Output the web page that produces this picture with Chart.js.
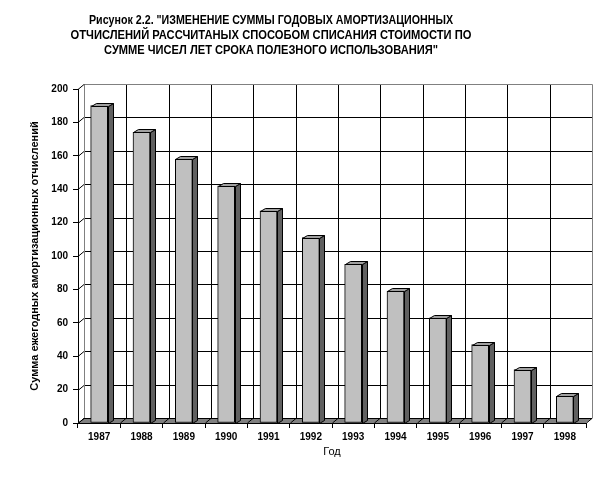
<!DOCTYPE html>
<html>
<head>
<meta charset="utf-8">
<script src="https://cdn.jsdelivr.net/npm/chart.js@4"></script>
<style>
  html, body { margin: 0; padding: 0; background: #ffffff; }
  #wrap { width: 615px; height: 481px; }
</style>
</head>
<body>
<div id="wrap"><canvas id="myChart" width="615" height="481"></canvas></div>
<script>
// data
const years = ['1987', '1988', '1989', '1990', '1991', '1992', '1993', '1994', '1995', '1996', '1997', '1998'];
const amounts = [190, 174, 158, 142, 127, 111, 95, 79, 63, 47, 32, 16];
const yTicks = [0, 20, 40, 60, 80, 100, 120, 140, 160, 180, 200];
const titleLines = [
  'Рисунок 2.2. "ИЗМЕНЕНИЕ СУММЫ ГОДОВЫХ АМОРТИЗАЦИОННЫХ',
  'ОТЧИСЛЕНИЙ РАССЧИТАНЫХ СПОСОБОМ СПИСАНИЯ СТОИМОСТИ ПО',
  'СУММЕ ЧИСЕЛ ЛЕТ СРОКА ПОЛЕЗНОГО ИСПОЛЬЗОВАНИЯ"'
];

const wallDx = 6, wallDy = 5;   // depth of the back wall
const barDx = 5, barDy = 3;     // depth of each column

// back wall, floor and gridlines behind the columns
const wallPlugin = {
  id: 'wall',
  beforeDatasetsDraw(chart) {
    const ctx = chart.ctx;
    const x = chart.scales.x, y = chart.scales.y;
    const left = x.left, right = x.right;
    const top = y.top, bottom = y.bottom;
    const step = x.getPixelForValue(1) - x.getPixelForValue(0);
    ctx.save();
    ctx.lineWidth = 1;

    // floor
    ctx.fillStyle = '#808080';
    ctx.beginPath();
    ctx.moveTo(left, bottom);
    ctx.lineTo(left + wallDx, bottom - wallDy);
    ctx.lineTo(right + wallDx, bottom - wallDy);
    ctx.lineTo(right, bottom);
    ctx.closePath();
    ctx.fill();

    // horizontal gridlines with the diagonal on the side wall
    ctx.strokeStyle = '#000000';
    yTicks.forEach(v => {
      const py = Math.round(y.getPixelForValue(v)) + 0.5;
      ctx.beginPath();
      ctx.moveTo(left, py);
      ctx.lineTo(left + wallDx, py - wallDy);
      ctx.lineTo(right + wallDx, py - wallDy);
      ctx.stroke();
    });

    // vertical gridlines on the back wall + floor diagonals
    for (let i = 0; i <= years.length; i++) {
      const bx = Math.round(x.getPixelForValue(0) - step / 2 + i * step) + 0.5;
      ctx.beginPath();
      ctx.moveTo(bx, bottom);
      ctx.lineTo(bx + wallDx, bottom - wallDy);
      if (i > 0 && i < years.length) ctx.lineTo(bx + wallDx, top - wallDy);
      ctx.stroke();
    }

    // grey wall border
    ctx.strokeStyle = '#808080';
    ctx.beginPath();
    ctx.moveTo(left + wallDx + 0.5, bottom - wallDy);
    ctx.lineTo(left + wallDx + 0.5, top - wallDy + 0.5);
    ctx.lineTo(right + wallDx + 0.5, top - wallDy + 0.5);
    ctx.lineTo(right + wallDx + 0.5, bottom - wallDy);
    ctx.stroke();
    ctx.restore();
  },
  afterDatasetsDraw(chart) {
    // side and top faces of the columns
    const ctx = chart.ctx;
    const meta = chart.getDatasetMeta(0);
    ctx.save();
    ctx.lineWidth = 1;
    ctx.strokeStyle = '#000000';
    meta.data.forEach(bar => {
      const p = bar.getProps(['x', 'y', 'base', 'width'], true);
      const l = Math.round(p.x - p.width / 2) + 0.5;
      const r = Math.round(p.x + p.width / 2) + 0.5;
      const t = Math.round(p.y) + 0.5;
      const b = Math.round(p.base) + 0.5;
      ctx.fillStyle = '#606060';
      ctx.beginPath();
      ctx.moveTo(r, t);
      ctx.lineTo(r + barDx, t - barDy);
      ctx.lineTo(r + barDx, b - barDy);
      ctx.lineTo(r, b);
      ctx.closePath();
      ctx.fill();
      ctx.stroke();
      ctx.fillStyle = '#a0a0a0';
      ctx.beginPath();
      ctx.moveTo(l, t);
      ctx.lineTo(l + barDx, t - barDy);
      ctx.lineTo(r + barDx, t - barDy);
      ctx.lineTo(r, t);
      ctx.closePath();
      ctx.fill();
      ctx.stroke();
    });
    ctx.restore();
  },
  afterDraw(chart) {
    const ctx = chart.ctx;
    ctx.save();
    ctx.fillStyle = '#000000';
    ctx.font = 'bold 12px "Liberation Sans", Arial, sans-serif';
    ctx.textAlign = 'center';
    ctx.textBaseline = 'middle';
    const widths = [364, 401, 334];
    titleLines.forEach((line, i) => {
      ctx.fillText(line, 271, 21 + i * 15, widths[i]);
    });
    ctx.restore();
  }
};

Chart.defaults.font.family = '"Liberation Sans", Arial, sans-serif';
Chart.defaults.color = '#000000';

const data = {
  labels: years,
  datasets: [{
    label: 'Сумма',
    data: amounts,
    backgroundColor: '#c0c0c0',
    borderColor: '#000000',
    borderWidth: 1,
    borderSkipped: false,
    barThickness: 17
  }]
};

const config = {
  type: 'bar',
  data: data,
  options: {
    responsive: false,
    animation: false,
    events: [],
    layout: { padding: { left: 24, right: 29, top: 89, bottom: 18 } },
    plugins: {
      legend: { display: false },
      tooltip: { enabled: false }
    },
    scales: {
      x: {
        afterFit(scale) { scale.height = 40; },
        grid: { offset: true, drawOnChartArea: false, drawTicks: true, tickLength: 5, color: '#000000' },
        border: { display: true, color: '#000000' },
        ticks: { font: { size: 10, weight: 'bold' }, padding: 3, maxRotation: 0 },
        title: { display: true, text: 'Год', font: { size: 11 }, padding: { top: 2, bottom: 4 } }
      },
      y: {
        min: 0,
        max: 200,
        afterFit(scale) { scale.width = 54; },
        afterBuildTicks(scale) { scale.ticks = yTicks.map(v => ({ value: v })); },
        grid: { drawOnChartArea: false, drawTicks: true, tickLength: 5, color: '#000000' },
        border: { display: true, color: '#000000' },
        ticks: { font: { size: 10, weight: 'bold' }, padding: 5 },
        title: { display: true, text: 'Сумма ежегодных амортизационных отчислений', font: { size: 11, weight: 'bold' }, padding: { top: 4, bottom: 4 } }
      }
    }
  },
  plugins: [wallPlugin]
};

const myChart = new Chart(document.getElementById('myChart'), config);
</script>
</body>
</html>
